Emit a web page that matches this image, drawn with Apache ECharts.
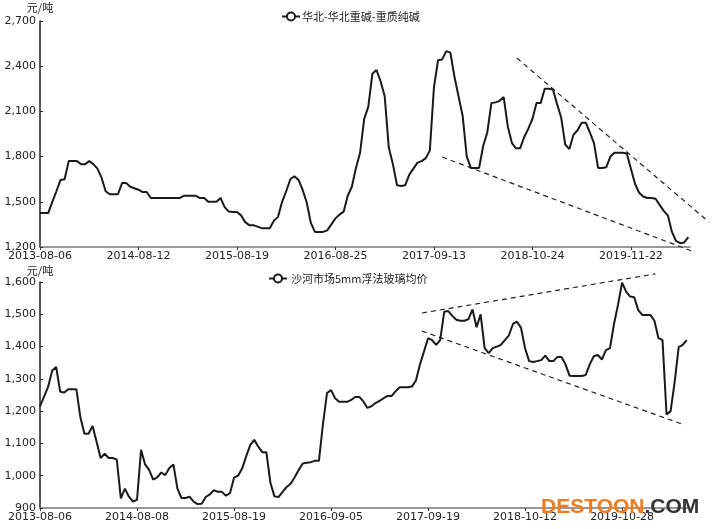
<!DOCTYPE html>
<html><head><meta charset="utf-8">
<script src="https://cdn.jsdelivr.net/npm/echarts@6/dist/echarts.min.js"></script>
<style>html,body{margin:0;padding:0;background:#fff}#c{width:712px;height:529px}</style>
</head><body><div id="c"></div>
<script>
// ---- data ----
const POINTS_PER_LABEL = 24;
const topTickLabels = ['2013-08-06','2014-08-12','2015-08-19','2016-08-25','2017-09-13','2018-10-24','2019-11-22'];
const bottomTickLabels = ['2013-08-06','2014-08-08','2015-08-19','2016-09-05','2017-09-19','2018-10-12','2019-10-28'];
const topSeriesName = '华北-华北重碱-重质纯碱';
const bottomSeriesName = '沙河市场5mm浮法玻璃均价';
const topValues = [
1425,1425,1425,1500,1570,1645,1650,1770,1770,1770,1750,1750,1770,1750,1720,1660,1570,1550,1550,1550,
1625,1625,1600,1590,1580,1565,1565,1525,1525,1525,1525,1525,1525,1525,1525,1540,1540,1540,1540,1525,
1525,1500,1500,1500,1525,1465,1435,1432,1432,1410,1365,1345,1345,1335,1325,1325,1325,1375,1400,1500,
1570,1650,1670,1645,1580,1495,1360,1300,1300,1300,1310,1350,1390,1415,1435,1540,1600,1725,1825,2050,
2130,2350,2375,2300,2200,1860,1750,1610,1605,1610,1680,1720,1760,1770,1790,1840,2260,2440,2445,2500,
2490,2330,2200,2070,1800,1725,1725,1725,1870,1960,2155,2160,2170,2195,2000,1890,1855,1855,1930,1985,
2050,2155,2155,2250,2250,2245,2150,2060,1880,1850,1945,1975,2025,2025,1960,1890,1725,1725,1730,1800,
1825,1825,1825,1820,1720,1620,1560,1535,1525,1525,1520,1480,1440,1410,1300,1240,1225,1230,1265
];
const bottomValues = [
1215,1245,1275,1325,1337,1260,1258,1268,1268,1268,1180,1130,1130,1154,1105,1055,1068,1055,1055,1050,
930,960,935,920,925,1080,1035,1018,988,995,1010,1002,1024,1035,960,931,931,935,920,912,
913,934,942,955,950,950,938,946,994,1000,1022,1060,1095,1111,1090,1073,1073,978,936,934,
950,965,975,995,1018,1038,1040,1042,1046,1046,1160,1256,1265,1240,1229,1229,1229,1235,1244,1244,
1230,1210,1215,1225,1232,1240,1247,1247,1262,1274,1274,1274,1276,1295,1345,1385,1426,1420,1405,1420,
1508,1510,1495,1483,1480,1480,1485,1515,1460,1500,1395,1380,1395,1400,1405,1420,1435,1470,1477,1458,
1395,1355,1352,1355,1358,1372,1355,1355,1368,1368,1345,1310,1309,1309,1309,1312,1345,1370,1374,1360,
1389,1395,1470,1530,1598,1570,1555,1553,1513,1498,1498,1498,1480,1426,1420,1190,1200,1290,1398,1405,1420
];
// trend lines (index, value)
const topUpperTrend = [[116.2, 2454], [163.0, 1366]];
const topLowerTrend = [[98.0, 1797], [158.9, 1173]];
const bottomUpperTrend = [[94.5, 1504], [152.2, 1625]];
const bottomLowerTrend = [[94.5, 1448], [158.8, 1160]];
const topAxisMax = 158.4;
const bottomAxisMax = 160.8;

// ---- chart ----
const FONT = 'DejaVu Sans';
const CJK = '"Noto Sans CJK SC", "DejaVu Sans"';
const toPairs = arr => arr.map((v, i) => [i, v]);
const tickVals = labels => labels.map((_, i) => i * POINTS_PER_LABEL);
const fmtNum = v => Number(v).toLocaleString('en-US');

function xAxisFor(gridIndex, labels, max) {
  return {
    type: 'value', gridIndex, min: 0, max,
    axisLine: {show: true, onZero: false, lineStyle: {color: '#777', width: 1.5}},
    axisTick: {show: true, customValues: tickVals(labels), length: 3, lineStyle: {color: '#333'}},
    axisLabel: {customValues: tickVals(labels), formatter: v => labels[Math.round(v / POINTS_PER_LABEL)] || '',
      color: '#222', fontFamily: FONT, fontSize: 11, margin: 4},
    splitLine: {show: false}
  };
}
function yAxisFor(gridIndex, min, max, interval, nameGap) {
  return {
    type: 'value', gridIndex, min, max, interval,
    name: '元/吨', nameLocation: 'end', nameGap,
    nameTextStyle: {color: '#222', fontFamily: CJK, fontSize: 11, align: 'center'},
    axisLine: {show: true, lineStyle: {color: '#222', width: 1.5}},
    axisTick: {show: true, length: 3, inside: true, lineStyle: {color: '#222'}},
    axisLabel: {formatter: fmtNum, color: '#222', fontFamily: FONT, fontSize: 11, margin: 4},
    splitLine: {show: false}
  };
}

const chart = echarts.init(document.getElementById('c'), null, {renderer: 'canvas'});
chart.setOption({
  animation: false,
  backgroundColor: '#fff',
  grid: [
    {left: 40, right: 22, top: 21, bottom: 282},
    {left: 40, right: 22, top: 282, bottom: 21}
  ],
  legend: [
    {data: [topSeriesName], top: 6, left: 276, itemWidth: 18, itemHeight: 10, itemGap: 4,
      textStyle: {fontFamily: CJK, fontSize: 11, color: '#222', padding: [0, 0, 0, -3]}},
    {data: [bottomSeriesName], top: 268, left: 263, itemWidth: 18, itemHeight: 10, itemGap: 4,
      textStyle: {fontFamily: CJK, fontSize: 11, color: '#222', padding: [0, 0, 0, -1]}}
  ],
  xAxis: [xAxisFor(0, topTickLabels, topAxisMax), xAxisFor(1, bottomTickLabels, bottomAxisMax)],
  yAxis: [yAxisFor(0, 1200, 2700, 300, 8), yAxisFor(1, 900, 1600, 100, 6)],
  series: [
    {type: 'line', name: topSeriesName, xAxisIndex: 0, yAxisIndex: 0, data: toPairs(topValues),
      showSymbol: false, symbol: 'emptyCircle', symbolSize: 8,
      lineStyle: {color: '#1a1a1a', width: 2}, itemStyle: {color: '#1a1a1a'}, z: 3},
    {type: 'line', name: bottomSeriesName, xAxisIndex: 1, yAxisIndex: 1, data: toPairs(bottomValues),
      showSymbol: false, symbol: 'emptyCircle', symbolSize: 8,
      lineStyle: {color: '#1a1a1a', width: 2}, itemStyle: {color: '#1a1a1a'}, z: 3}
  ]
});

// dashed trend lines: endpoints converted from data space through the chart's own scales
const trends = [
  {grid: 0, pts: topUpperTrend}, {grid: 0, pts: topLowerTrend},
  {grid: 1, pts: bottomUpperTrend}, {grid: 1, pts: bottomLowerTrend}
];
const gfx = trends.map((t, k) => {
  const a = chart.convertToPixel({gridIndex: t.grid}, t.pts[0]);
  const b = chart.convertToPixel({gridIndex: t.grid}, t.pts[1]);
  return {type: 'line', id: 'trend' + k, silent: true, z: 1,
    shape: {x1: a[0], y1: a[1], x2: b[0], y2: b[1]},
    style: {stroke: '#222', lineWidth: 1.2, lineDash: [5, 4]}};
});
gfx.push({
  type: 'text', id: 'wm', left: 541, top: 497, z: 100, silent: true,
  style: {rich: {a: {fill: '#f07c1e', fontSize: 21, fontWeight: 'bold', fontFamily: 'Liberation Sans'},
                 b: {fill: '#333', fontSize: 21, fontWeight: 'bold', fontFamily: 'Liberation Sans'}},
          text: '{a|DESTOON}{b|.COM}'}
});
chart.setOption({graphic: gfx});
</script></body></html>
